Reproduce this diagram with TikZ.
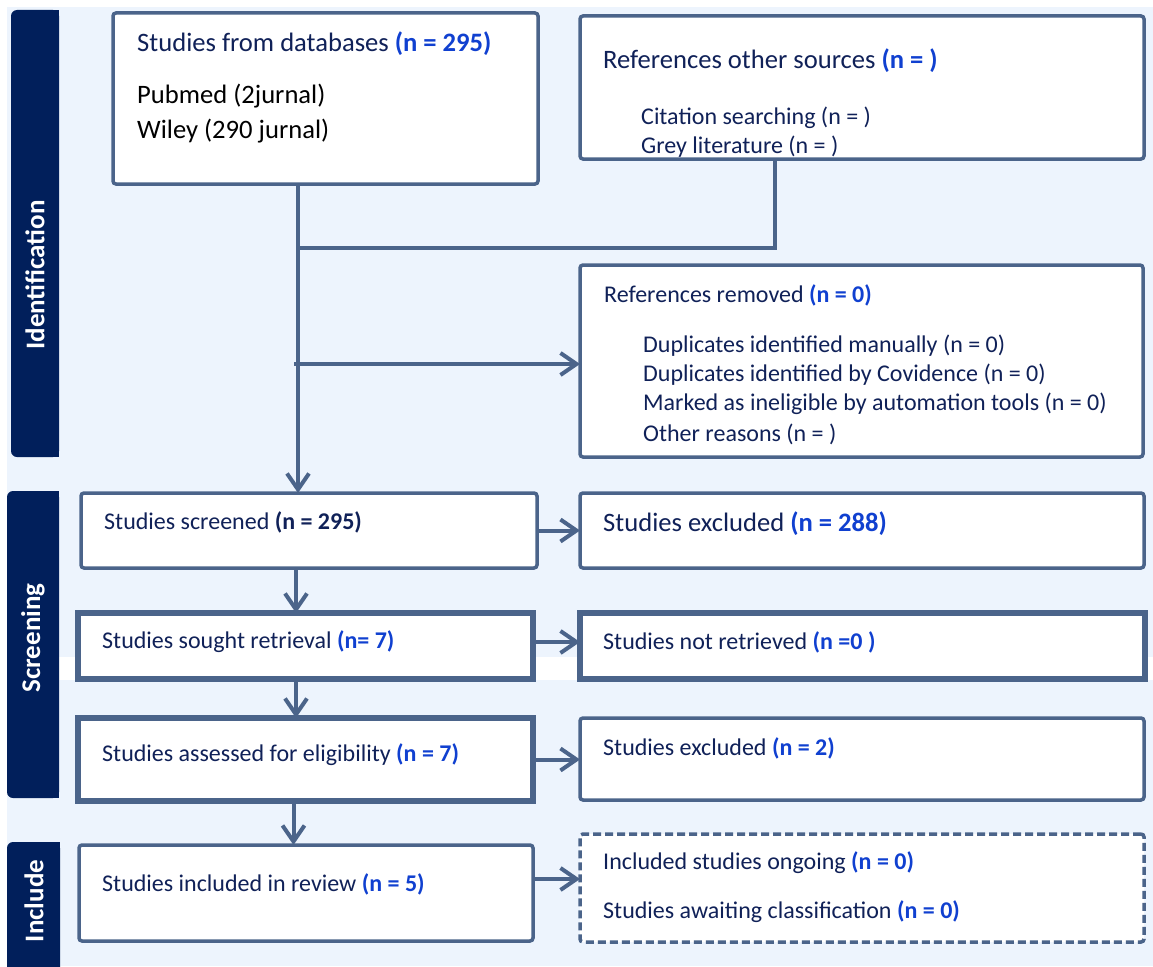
\documentclass[tikz,border=0pt]{standalone}
\usepackage{fontspec}
\setmainfont{Carlito}
\usetikzlibrary{arrows.meta}
\definecolor{bgc}{RGB}{237,244,253}
\definecolor{barc}{RGB}{1,31,91}
\definecolor{edgec}{RGB}{75,100,138}
\definecolor{txtc}{RGB}{16,33,88}
\definecolor{numc}{RGB}{16,64,208}
\newcommand{\nval}[1]{\textcolor{numc}{\textbf{#1}}}
\begin{document}
\begin{tikzpicture}[x=1pt,y=-1pt,
  box/.style={draw=edgec, fill=white, line width=3.5pt, rounded corners=3pt, anchor=north west, inner sep=0pt, outer sep=0pt},
  thickbox/.style={box, line width=6pt, sharp corners},
  dashbox/.style={box, dash pattern=on 8pt off 4pt},
  arr/.style={draw=edgec, line width=4pt, -{Straight Barb[length=16pt,width=22pt]}},
  conn/.style={draw=edgec, line width=4pt},
  big/.style={anchor=base west, inner sep=0pt, text=txtc, font=\fontsize{26.6}{30}\selectfont},
  norm/.style={anchor=base west, inner sep=0pt, text=txtc, font=\fontsize{24}{28}\selectfont},
  barlabel/.style={text=white, font=\bfseries\fontsize{27}{32}\selectfont, rotate=90, inner sep=0pt},
]
\useasboundingbox (0,0) rectangle (1153,966);
% backgrounds
\fill[bgc] (7,7) rectangle (1153,657);
\fill[bgc] (7,680) rectangle (1153,966);
% side bars
\fill[barc, rounded corners=6pt] (11,10) rectangle (59,457);
\fill[barc] (35,10) rectangle (59,457);
\fill[barc, rounded corners=6pt] (7,491) rectangle (59,798);
\fill[barc] (35,491) rectangle (59,798);
\fill[barc, rounded corners=6pt] (7,842) rectangle (60,990);
\fill[barc] (35,842) rectangle (60,966);
\node[barlabel] (lid) at (35,275) {Identification};
\node[barlabel] (lsc) at (33,638) {Screening};
\node[barlabel] (lin) at (34,901) {Include};

% boxes
\node[box, minimum width=425pt, minimum height=171pt] (db) at (113,13) {};
\node[box, minimum width=564pt, minimum height=143pt] (other) at (580,16) {};
\node[box, minimum width=563pt, minimum height=192pt] (removed) at (580,265) {};
\node[box, minimum width=456pt, minimum height=75pt] (screened) at (81,493) {};
\node[box, minimum width=564pt, minimum height=75pt] (excl) at (580,493) {};
\node[thickbox, minimum width=455pt, minimum height=66pt] (sought) at (78,613) {};
\node[thickbox, minimum width=565pt, minimum height=66pt] (notret) at (580,613) {};
\node[thickbox, minimum width=455pt, minimum height=83pt] (assessed) at (78,718) {};
\node[box, minimum width=564pt, minimum height=82pt] (excl2) at (580,718) {};
\node[box, minimum width=454pt, minimum height=96pt] (included) at (79,845) {};
\node[dashbox, minimum width=564pt, minimum height=108pt] (ongoing) at (580,834) {};

% connectors
\coordinate (spine) at (298,0);
\coordinate (turn) at (775,248);
\coordinate (branch) at (294,364);
\draw[conn] (other.south -| turn) -- (turn) -- (turn -| spine);
\draw[arr] (db.south -| spine) -- (screened.north -| spine);
\draw[arr] (branch) -- (branch -| removed.west);
\draw[arr] (screened.east) -- (excl.west);
\draw[arr] ([yshift=4pt]sought.east) -- ([yshift=4pt]sought.east -| notret.west);
\draw[arr] (assessed.east) -- (assessed.east -| excl2.west);
\draw[arr] ([yshift=14pt]included.east) -- ([yshift=14pt]included.east -| ongoing.west);
\draw[arr] ([xshift=-13pt]screened.south) -- ([xshift=-13pt]screened.south |- sought.north);
\draw[arr] ([xshift=-9.5pt]sought.south) -- ([xshift=-9.5pt]sought.south |- assessed.north);
\draw[arr] ([xshift=-12pt]assessed.south) -- ([xshift=-12pt]assessed.south |- included.north);

% texts
\node[big] (t1) at (137,51.7) {Studies from databases \nval{(n = 295)}};
\node[big, text=black] (t2) at (137,103) {Pubmed (2jurnal)};
\node[big, text=black] (t3) at (137,138) {Wiley (290 jurnal)};
\node[big] (t4) at (603,68) {References other sources \nval{(n = )}};
\node[norm] (t5) at (641,124) {Citation searching (n = )};
\node[norm] (t6) at (641,153) {Grey literature (n = )};
\node[norm] (t7) at (604,302) {References removed \nval{(n = 0)}};
\node[norm] (t8) at (643,352) {Duplicates identified manually (n = 0)};
\node[norm] (t9) at (643,381) {Duplicates identified by Covidence (n = 0)};
\node[norm] (t10) at (643,410) {Marked as ineligible by automation tools (n = 0)};
\node[norm] (t11) at (643,441) {Other reasons (n = )};
\node[norm] (t12) at (104,529) {Studies screened \textbf{(n = 295)}};
\node[big] (t13) at (603,531) {Studies excluded \nval{(n = 288)}};
\node[norm] (t14) at (102,648) {Studies sought retrieval \nval{(n= 7)}};
\node[norm] (t15) at (603,649) {Studies not retrieved \nval{(n =0 )}};
\node[norm] (t16) at (102,761) {Studies assessed for eligibility \nval{(n = 7)}};
\node[norm] (t17) at (603,755) {Studies excluded \nval{(n = 2)}};
\node[norm] (t18) at (102,891) {Studies included in review \nval{(n = 5)}};
\node[norm] (t19) at (603,869) {Included studies ongoing \nval{(n = 0)}};
\node[norm] (t20) at (603,918) {Studies awaiting classification \nval{(n = 0)}};
\end{tikzpicture}
\end{document}
